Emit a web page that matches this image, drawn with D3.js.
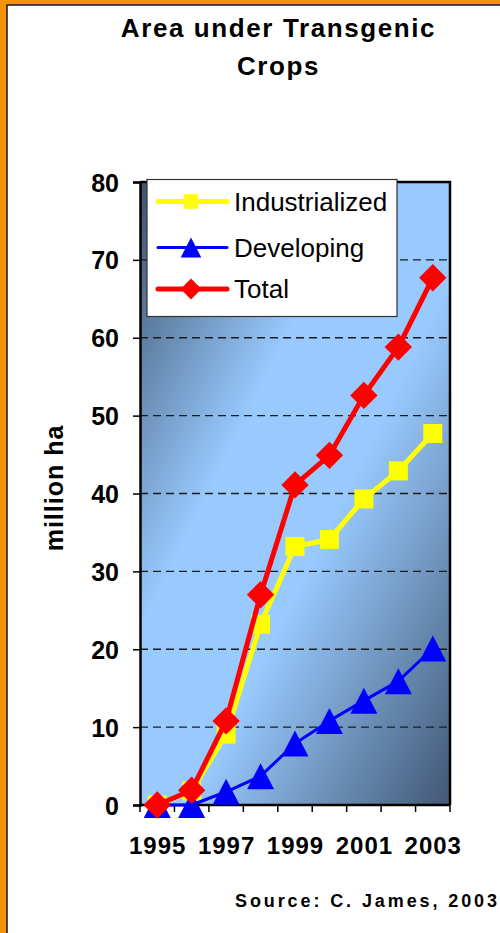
<!DOCTYPE html>
<html>
<head>
<meta charset="utf-8">
<script src="https://cdn.jsdelivr.net/npm/d3@7"></script>
<style>
  html, body { margin: 0; padding: 0; background: #ffffff; }
  svg { display: block; font-family: "Liberation Sans", Arial, sans-serif; }
</style>
</head>
<body>
<svg id="chart" width="500" height="933"></svg>
<script>
// Area under transgenic crops, million hectares, 1995-2003
const years = ["1995", "1996", "1997", "1998", "1999", "2000", "2001", "2002", "2003"];
const industrialized = [0, 1.8, 9.1, 23.2, 33.2, 34.1, 39.3, 42.9, 47.7];
const developing = [0, 0, 1.7, 3.7, 7.9, 10.8, 13.4, 15.9, 20.1];
const total = [0, 1.9, 10.8, 27.0, 41.1, 44.9, 52.6, 58.8, 67.7];
const yTicks = [0, 10, 20, 30, 40, 50, 60, 70, 80];
const xTickLabels = ["1995", "1997", "1999", "2001", "2003"];
const seriesNames = ["Industrialized", "Developing", "Total"];

const svg = d3.select("#chart");
const W = 500, H = 933;
const plot = { left: 140, right: 450, top: 182, bottom: 805 };

// Slide frame (orange edge with a thin black rule)
svg.append("rect").attr("x", 0).attr("y", 0).attr("width", W).attr("height", 4.5).attr("fill", "#f39108");
svg.append("rect").attr("x", 0).attr("y", 0).attr("width", 6.5).attr("height", H).attr("fill", "#f39108");
svg.append("line").attr("x1", 6.5).attr("x2", W).attr("y1", 5).attr("y2", 5).attr("stroke", "#111").attr("stroke-width", 1.5);
svg.append("line").attr("x1", 7).attr("x2", 7).attr("y1", 5).attr("y2", H).attr("stroke", "#111").attr("stroke-width", 1.5);

// Title
const title = svg.append("text")
  .attr("text-anchor", "middle")
  .attr("font-size", 26).attr("font-weight", "bold")
  .attr("letter-spacing", 1.6).attr("fill", "#000");
title.append("tspan").attr("x", 278.5).attr("y", 37).text("Area under Transgenic");
title.append("tspan").attr("x", 278.5).attr("y", 75).text("Crops");

const x = d3.scaleBand().domain(years).range([plot.left, plot.right]);
const y = d3.scaleLinear().domain([0, 80]).range([plot.bottom, plot.top]);
const cx = d => x(d) + x.bandwidth() / 2;

// Plot background gradient
const defs = svg.append("defs");
const grad = defs.append("linearGradient").attr("id", "bg")
  .attr("x1", 0).attr("y1", 0).attr("x2", 1).attr("y2", 1);
[[0, "#3c536e"], [0.36, "#98caff"], [0.58, "#98caff"], [1, "#425874"]].forEach(([o, c]) =>
  grad.append("stop").attr("offset", o).attr("stop-color", c));

svg.append("rect")
  .attr("x", plot.left).attr("y", plot.top)
  .attr("width", plot.right - plot.left).attr("height", plot.bottom - plot.top)
  .attr("fill", "url(#bg)");

// Dashed gridlines
svg.append("g").selectAll("line")
  .data(yTicks.filter(v => v > 0 && v < 80))
  .join("line")
  .attr("x1", plot.left).attr("x2", plot.right)
  .attr("y1", d => y(d)).attr("y2", d => y(d))
  .attr("stroke", "#1c1c1c").attr("stroke-width", 1.4)
  .attr("stroke-dasharray", "8,5");

// Top and right frame of the plot
svg.append("path")
  .attr("d", `M${plot.left},${plot.top}H${plot.right}V${plot.bottom}`)
  .attr("fill", "none").attr("stroke", "#000").attr("stroke-width", 2.5);

// Y axis
const yAxis = svg.append("g")
  .attr("transform", `translate(${plot.left},0)`)
  .call(d3.axisLeft(y).tickValues(yTicks).tickSize(7).tickPadding(14));
yAxis.select(".domain").attr("stroke", "#000").attr("stroke-width", 2.5);
yAxis.selectAll(".tick line").attr("stroke", "#000").attr("stroke-width", 1.5);
yAxis.selectAll(".tick text")
  .attr("font-size", 25).attr("font-weight", "bold")
  .attr("font-family", "'Liberation Sans', Arial, sans-serif")
  .attr("fill", "#000").attr("dy", "0.36em");

// X axis: ticks at category boundaries, labels on every other year
const xAxis = svg.append("g").attr("transform", `translate(0,${plot.bottom})`);
xAxis.append("line")
  .attr("x1", plot.left).attr("x2", plot.right)
  .attr("stroke", "#000").attr("stroke-width", 2.5);
const boundaries = years.map(d => x(d)).concat([plot.right]);
xAxis.selectAll(".xt").data(boundaries).join("line").attr("class", "xt")
  .attr("x1", d => d).attr("x2", d => d).attr("y1", 0).attr("y2", 7)
  .attr("stroke", "#000").attr("stroke-width", 1.5);
xAxis.selectAll(".xl").data(xTickLabels).join("text").attr("class", "xl")
  .attr("x", d => cx(d) + 0.5).attr("y", 49)
  .attr("text-anchor", "middle")
  .attr("font-size", 24).attr("font-weight", "bold").attr("letter-spacing", 1)
  .attr("fill", "#000")
  .text(d => d);

// Y axis title
svg.append("text")
  .attr("transform", "translate(63,488) rotate(-90)")
  .attr("text-anchor", "middle")
  .attr("font-size", 25).attr("font-weight", "bold").attr("letter-spacing", 1)
  .attr("fill", "#000")
  .text("million ha");

// Marker shapes
const markerPath = {
  square: s => `M${-s / 2},${-s / 2}h${s}v${s}h${-s}Z`,
  triangle: s => `M0,${-s * 0.5}L${s * 0.52},${s * 0.5}L${-s * 0.52},${s * 0.5}Z`,
  diamond: s => `M0,${-s * 0.72}L${s * 0.72},0L0,${s * 0.72}L${-s * 0.72},0Z`
};

const series = [
  { name: seriesNames[0], values: industrialized, color: "#ffff00", width: 5, shape: "square", size: 19 },
  { name: seriesNames[1], values: developing, color: "#0000ff", width: 3, shape: "triangle", size: 26 },
  { name: seriesNames[2], values: total, color: "#ff0000", width: 5, shape: "diamond", size: 19 }
];

const line = d3.line().x((d, i) => cx(years[i])).y(d => y(d));

series.forEach(s => {
  const g = svg.append("g");
  g.append("path")
    .attr("d", line(s.values))
    .attr("fill", "none").attr("stroke", s.color)
    .attr("stroke-width", s.width).attr("stroke-linejoin", "round");
  g.selectAll("path.m").data(s.values).join("path").attr("class", "m")
    .attr("transform", (d, i) => `translate(${cx(years[i])},${y(d)})`)
    .attr("d", markerPath[s.shape](s.size))
    .attr("fill", s.color);
});

// Legend
const legend = svg.append("g");
legend.append("rect")
  .attr("x", 147).attr("y", 179.5).attr("width", 250).attr("height", 137)
  .attr("fill", "#fff").attr("stroke", "#333").attr("stroke-width", 1.2);
const legendRows = [201.5, 247.5, 289];
series.forEach((s, i) => {
  const ly = legendRows[i];
  legend.append("line")
    .attr("x1", 158).attr("x2", 227).attr("y1", ly).attr("y2", ly)
    .attr("stroke", s.color).attr("stroke-width", s.width).attr("stroke-linecap", "round");
  legend.append("path")
    .attr("transform", `translate(191,${ly})`)
    .attr("d", markerPath[s.shape](s.size * 0.76))
    .attr("fill", s.color);
  legend.append("text")
    .attr("x", 234).attr("y", ly + 9)
    .attr("font-size", 26).attr("fill", "#000")
    .text(s.name);
});

// Source note
svg.append("text")
  .attr("x", 235).attr("y", 907)
  .attr("font-size", 18).attr("font-weight", "bold").attr("letter-spacing", 2.9)
  .attr("fill", "#000")
  .text("Source: C. James, 2003");
</script>
</body>
</html>
